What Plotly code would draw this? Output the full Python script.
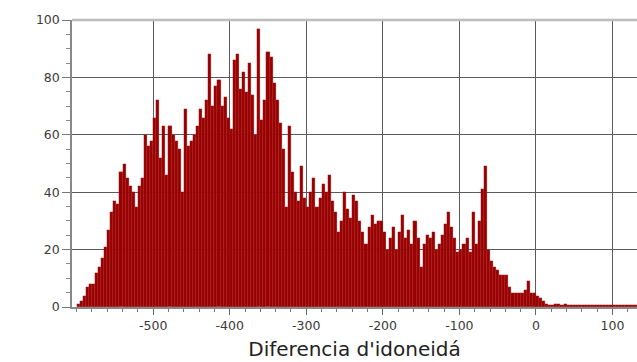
import plotly.graph_objects as go

# Histogram: bins of width 4 starting at -600
bin_start = -600
bin_width = 4
counts = [
    1, 2, 4, 7, 8, 8, 12, 14, 17, 21,
    27, 33, 37, 36, 47, 50, 45, 42, 40, 35,
    42, 45, 60, 56, 58, 66, 72, 52, 63, 46,
    63, 60, 58, 55, 40, 69, 56, 58, 60, 63,
    69, 66, 72, 88, 70, 77, 79, 70, 73, 66,
    62, 86, 88, 76, 82, 75, 85, 74, 60, 97,
    65, 72, 89, 87, 78, 72, 64, 55, 35, 63,
    47, 40, 37, 49, 38, 35, 40, 45, 35, 38,
    43, 40, 46, 37, 33, 26, 30, 40, 34, 31,
    39, 37, 30, 26, 22, 28, 32, 29, 30, 30,
    26, 20, 24, 28, 20, 26, 32, 24, 27, 22,
    30, 24, 14, 22, 25, 24, 26, 20, 22, 25,
    29, 33, 28, 24, 19, 20, 22, 24, 19, 33,
    22, 30, 41, 49, 20, 16, 14, 13, 11, 11,
    11, 7, 5, 5, 5, 5, 6, 9, 5, 5,
    4, 3, 2, 1, 0.6, 0.6, 1.2, 1.2, 0.6, 1.0,
    0.6, 0.6, 0.6, 0.6, 0.6, 0.6, 0.6, 0.6, 0.6, 0.6,
    0.6, 0.6, 0.6, 0.6, 0.6, 0.6, 0.6, 0.6, 0.6, 0.6,
    0.6, 0.6, 0.6,
]
x_ticks = [-500, -400, -300, -200, -100, 0, 100]
y_ticks = [0, 20, 40, 60, 80, 100]
x_title = "Diferencia d'idoneidá"

x_centers = [bin_start + bin_width * (i + 0.5) for i in range(len(counts))]

fig = go.Figure(
    go.Bar(
        x=x_centers,
        y=counts,
        width=bin_width,
        marker=dict(color="#990000", line=dict(color="#b03030", width=0.25)),
    )
)

font = "DejaVu Sans, Liberation Sans, sans-serif"
fig.update_layout(
    width=637,
    height=362,
    margin=dict(l=72, r=0, t=20, b=55),
    paper_bgcolor="white",
    plot_bgcolor="white",
    showlegend=False,
    bargap=0,
    font=dict(family=font, size=12, color="#3a3a3a"),
)
fig.update_xaxes(
    range=[-606, 132],
    tickvals=x_ticks,
    ticktext=[str(v) for v in x_ticks],
    ticks="outside",
    ticklen=6,
    tickcolor="#666",
    tickfont=dict(size=12.5, color="#3a3a3a"),
    showgrid=True,
    gridcolor="#5a5a5a",
    gridwidth=1.3,
    showline=True,
    linecolor="#888",
    linewidth=1.5,
    zeroline=False,
    minor=dict(dtick=20, tick0=0, ticks="outside", ticklen=3, tickcolor="#777", showgrid=False),
    title=dict(text=x_title, font=dict(size=20, color="#222", family=font), standoff=10),
)
fig.update_yaxes(
    range=[0, 100],
    tickvals=y_ticks,
    ticks="outside",
    ticklen=8,
    tickcolor="#777",
    tickfont=dict(size=12.5, color="#3a3a3a"),
    showgrid=True,
    gridcolor="#5a5a5a",
    gridwidth=1.3,
    showline=True,
    linecolor="#888",
    linewidth=1.5,
    zeroline=False,
    minor=dict(dtick=5, tick0=0, ticks="outside", ticklen=4, tickcolor="#888", showgrid=False),
)

# light grey frame line along the top of the plot area, as in the reference
fig.add_shape(type="line", xref="paper", yref="paper", x0=0, x1=1, y0=1, y1=1,
              line=dict(color="#bdbdbd", width=2.5), layer="above")

fig.write_html("out.html")
